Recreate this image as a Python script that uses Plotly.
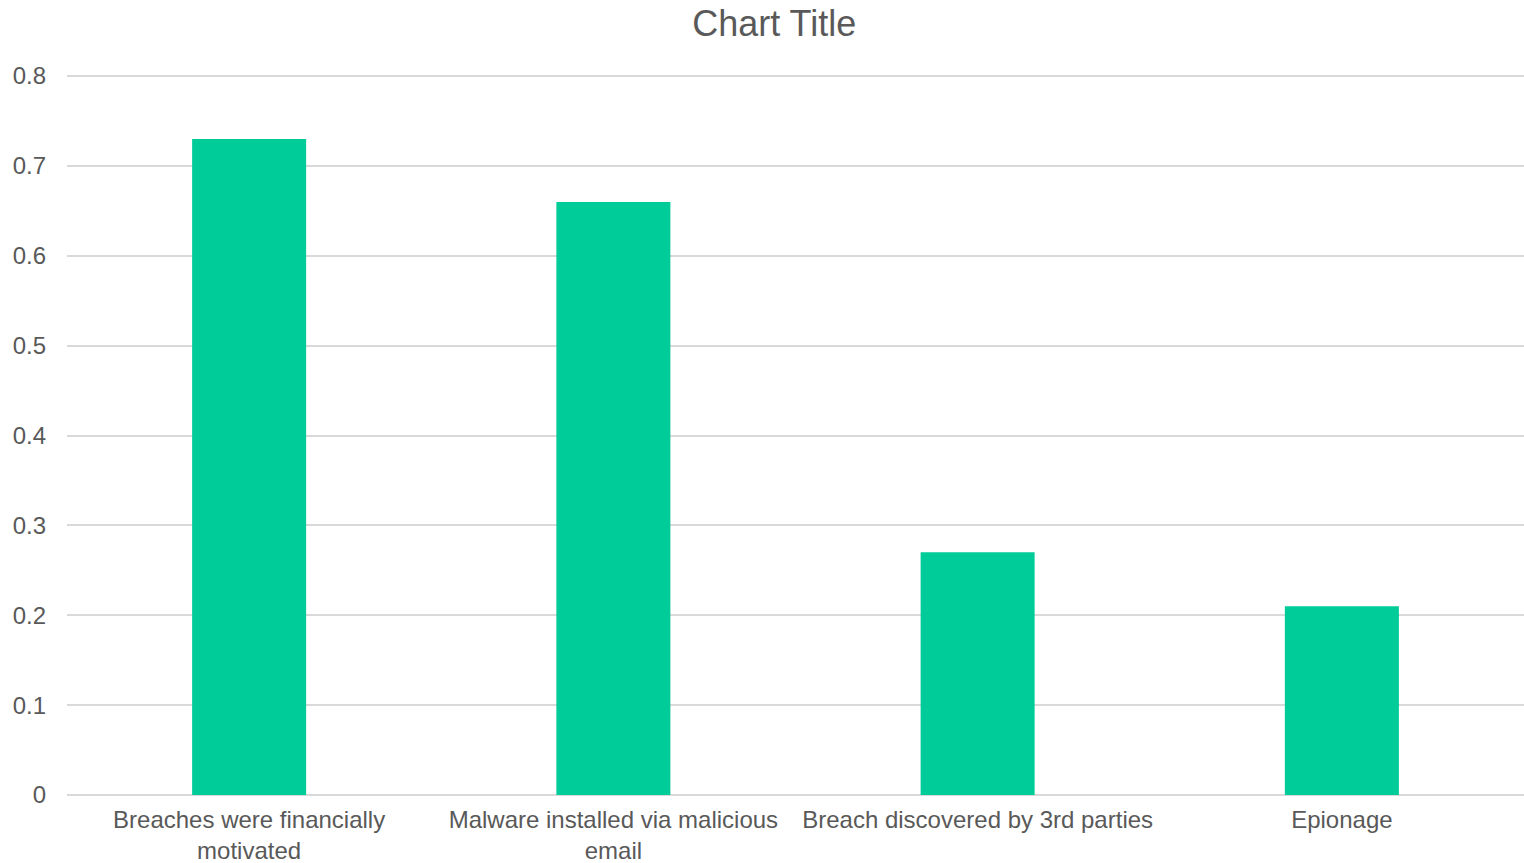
import plotly.graph_objects as go

# Share of breaches by characteristic
categories = [
    "Breaches were financially<br>motivated",
    "Malware installed via malicious<br>email",
    "Breach discovered by 3rd parties",
    "Epionage",
]
values = [0.73, 0.66, 0.27, 0.21]
y_ticks = [0, 0.1, 0.2, 0.3, 0.4, 0.5, 0.6, 0.7, 0.8]
y_tick_labels = ["0", "0.1", "0.2", "0.3", "0.4", "0.5", "0.6", "0.7", "0.8"]

BAR_COLOR = "#00CC99"
TEXT_COLOR = "#595959"
GRID_COLOR = "#D9D9D9"
FONT = "Liberation Sans, Arial, sans-serif"

# Slight headroom above 0.8 so the top gridline is drawn
Y_MAX = 0.8012

fig = go.Figure(
    go.Bar(
        x=categories,
        y=values,
        marker=dict(color=BAR_COLOR, line=dict(width=0)),
        hoverinfo="x+y",
    )
)

fig.update_layout(
    width=1524,
    height=863,
    margin=dict(l=67, r=0, t=75, b=68),
    paper_bgcolor="white",
    plot_bgcolor="white",
    bargap=0.687,
    showlegend=False,
    font=dict(family=FONT, color=TEXT_COLOR, size=24),
    title=dict(
        text="Chart Title",
        x=0.508,
        xanchor="center",
        y=1 - 23 / 863,
        yanchor="middle",
        yref="container",
        font=dict(family=FONT, size=36, color=TEXT_COLOR),
    ),
)

fig.update_xaxes(
    automargin=False,
    showgrid=False,
    showline=False,
    ticks="",
    tickfont=dict(size=24, color=TEXT_COLOR, family=FONT),
    ticklabelstandoff=8,
)

fig.update_yaxes(
    automargin=False,
    range=[0, Y_MAX],
    tickvals=y_ticks,
    ticktext=y_tick_labels,
    showgrid=True,
    gridcolor=GRID_COLOR,
    gridwidth=1.5,
    zeroline=True,
    zerolinecolor=GRID_COLOR,
    zerolinewidth=2,
    showline=False,
    ticks="",
    ticklabelstandoff=20,
    tickfont=dict(size=24, color=TEXT_COLOR, family=FONT),
)

fig.write_html("out.html")
